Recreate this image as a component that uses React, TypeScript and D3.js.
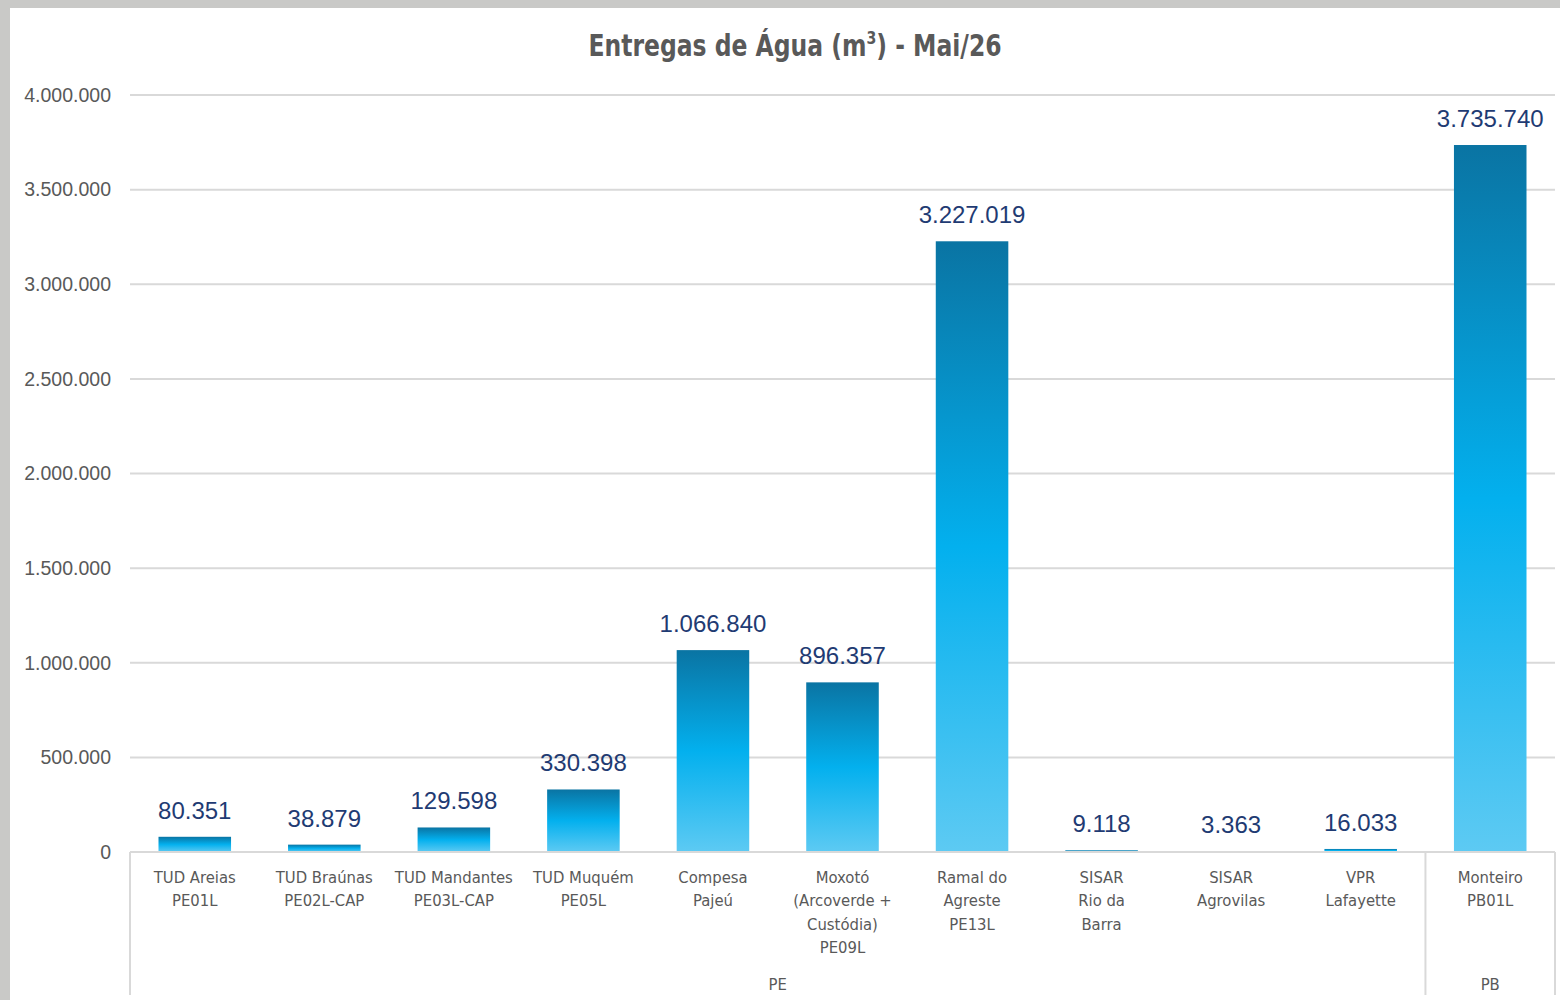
import React, { useEffect, useRef } from "react";
import * as d3 from "d3";

const categories = [
  ["TUD Areias", "PE01L"],
  ["TUD Braúnas", "PE02L-CAP"],
  ["TUD Mandantes", "PE03L-CAP"],
  ["TUD Muquém", "PE05L"],
  ["Compesa", "Pajeú"],
  ["Moxotó", "(Arcoverde +", "Custódia)", "PE09L"],
  ["Ramal do", "Agreste", "PE13L"],
  ["SISAR", "Rio da", "Barra"],
  ["SISAR", "Agrovilas"],
  ["VPR", "Lafayette"],
  ["Monteiro", "PB01L"],
];
const values = [80351, 38879, 129598, 330398, 1066840, 896357, 3227019, 9118, 3363, 16033, 3735740];
const groups = [
  { name: "PE", count: 10 },
  { name: "PB", count: 1 },
];
const yTicks = [0, 500000, 1000000, 1500000, 2000000, 2500000, 3000000, 3500000, 4000000];

const fmt = (v: number) => d3.format(",")(v).replace(/,/g, ".");

const App = () => {
  const ref = useRef<SVGSVGElement>(null);

  useEffect(() => {
    const svg = d3.select(ref.current);
    svg.selectAll("*").remove();

    const width = 1560, height = 1000;
    const margin = { top: 95, right: 5, bottom: 148, left: 130 };

    // background
    svg.append("rect").attr("width", width).attr("height", height).attr("fill", "#c9c9c7");
    svg.append("rect").attr("x", 10).attr("y", 8).attr("width", width - 10).attr("height", height - 8).attr("fill", "#ffffff");

    const defs = svg.append("defs");
    const grad = defs.append("linearGradient").attr("id", "barGrad").attr("x1", 0).attr("y1", 0).attr("x2", 0).attr("y2", 1);
    grad.append("stop").attr("offset", "0%").attr("stop-color", "#0a74a3");
    grad.append("stop").attr("offset", "50%").attr("stop-color", "#03b0ee");
    grad.append("stop").attr("offset", "100%").attr("stop-color", "#5dcaf3");

    const x = d3.scaleBand<number>()
      .domain(d3.range(categories.length))
      .range([margin.left, width - margin.right])
      .paddingInner(0.44)
      .paddingOuter(0.22);

    const y = d3.scaleLinear().domain([0, 4000000]).range([height - margin.bottom, margin.top]);

    // gridlines + y labels
    svg.append("g")
      .selectAll("line")
      .data(yTicks.slice(1))
      .join("line")
      .attr("x1", margin.left)
      .attr("x2", width - margin.right)
      .attr("y1", (d) => y(d))
      .attr("y2", (d) => y(d))
      .attr("stroke", "#d9d9d9")
      .attr("stroke-width", 2);

    svg.append("g")
      .selectAll("text")
      .data(yTicks)
      .join("text")
      .attr("x", 111)
      .attr("y", (d) => y(d))
      .attr("dy", "0.35em")
      .attr("text-anchor", "end")
      .attr("font-family", "Liberation Sans, Arial, sans-serif")
      .attr("font-size", 19.5)
      .attr("fill", "#595959")
      .text((d) => fmt(d));

    // bars
    svg.append("g")
      .selectAll("rect")
      .data(values)
      .join("rect")
      .attr("x", (_, i) => x(i)!)
      .attr("y", (d) => y(d))
      .attr("width", x.bandwidth())
      .attr("height", (d) => y(0) - y(d))
      .attr("fill", "url(#barGrad)");

    // value labels
    svg.append("g")
      .selectAll("text")
      .data(values)
      .join("text")
      .attr("x", (_, i) => x(i)! + x.bandwidth() / 2)
      .attr("y", (d) => y(d) - 18)
      .attr("text-anchor", "middle")
      .attr("font-family", "Liberation Sans, Arial, sans-serif")
      .attr("font-size", 24)
      .attr("fill", "#1f3b73")
      .text((d) => fmt(d));

    // category axis
    const axisY = y(0);
    const bottom = 995;
    const axis = svg.append("g").attr("stroke", "#d9d9d9").attr("stroke-width", 2);
    axis.append("line").attr("x1", margin.left).attr("x2", width - margin.right).attr("y1", axisY).attr("y2", axisY);

    let idx = 0;
    const bounds: number[] = [margin.left];
    groups.forEach((g) => {
      idx += g.count;
      bounds.push(idx === categories.length ? width - margin.right : x(idx)! - (x.step() - x.bandwidth()) / 2);
    });
    bounds.forEach((bx) => {
      axis.append("line").attr("x1", bx).attr("x2", bx).attr("y1", axisY).attr("y2", bottom);
    });

    const catG = svg.append("g")
      .attr("font-family", "Liberation Sans Narrow, DejaVu Sans Condensed, sans-serif")
      .attr("font-size", 16.5)
      .attr("fill", "#595959")
      .attr("text-anchor", "middle");

    categories.forEach((lines, i) => {
      const cx = x(i)! + x.bandwidth() / 2;
      const t = catG.append("text").attr("x", cx).attr("y", 883);
      lines.forEach((l, j) => {
        t.append("tspan").attr("x", cx).attr("dy", j === 0 ? 0 : 23.3).text(l);
      });
    });

    groups.forEach((g, gi) => {
      catG.append("text")
        .attr("x", (bounds[gi] + bounds[gi + 1]) / 2)
        .attr("y", 990)
        .text(g.name);
    });

    // title (slightly condensed)
    const title = svg.append("text")
      .attr("transform", "translate(795,56) scale(0.87,1)")
      .attr("text-anchor", "middle")
      .attr("font-family", "Liberation Sans Narrow, DejaVu Sans Condensed, sans-serif")
      .attr("font-weight", "bold")
      .attr("font-size", 30)
      .attr("fill", "#595959");
    title.append("tspan").text("Entregas de Água (m");
    title.append("tspan").attr("font-size", 18).attr("dy", -12).text("3");
    title.append("tspan").attr("dy", 12).text(") - Mai/26");
  }, []);

  return (
    <div style={{ position: "absolute", left: 0, top: 0 }}>
      <svg ref={ref} width={1560} height={1000} style={{ display: "block" }} />
    </div>
  );
};

export default App;
